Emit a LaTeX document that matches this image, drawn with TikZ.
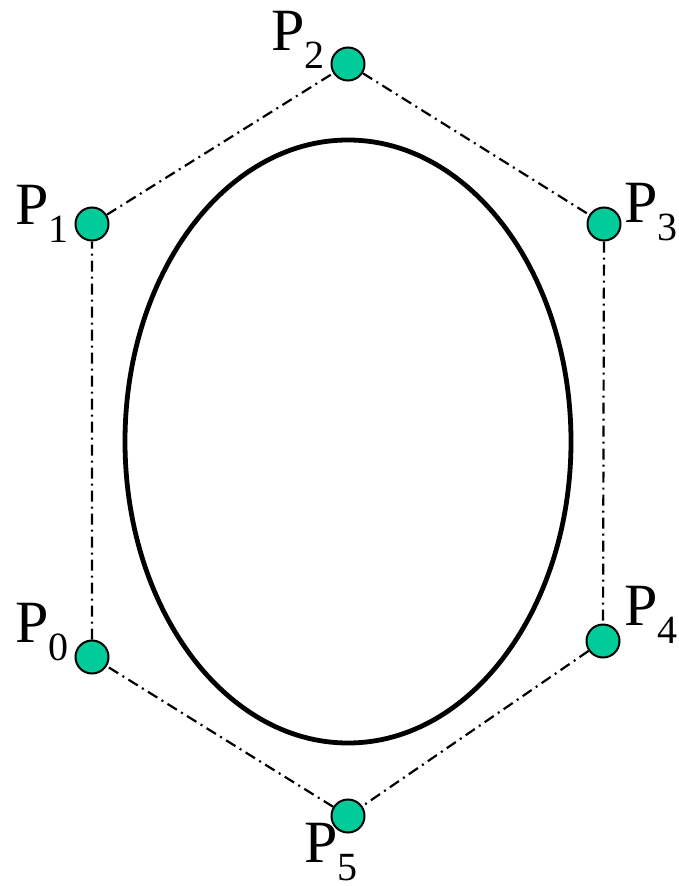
\documentclass[tikz,border=0pt]{standalone}
\usepackage{fontspec}
\setmainfont{Liberation Serif}
\definecolor{ptgreen}{RGB}{0,204,153}
\begin{document}
\begin{tikzpicture}[x=1pt,y=-1pt,
  pt/.style={circle,draw=black,line width=2pt,fill=ptgreen,minimum size=33pt,inner sep=0pt},
  poly/.style={line width=2.2pt,dash pattern=on 11pt off 5pt on 2pt off 5pt},
  lbl/.style={anchor=base west,inner sep=0pt,font=\fontsize{60}{60}\selectfont}]
\useasboundingbox (0,0) rectangle (679,886);
\newcommand{\plab}[1]{P\raisebox{-18pt}{\fontsize{40}{40}\selectfont #1}}
\draw[line width=4.8pt] (348,441.5) ellipse (223 and 301.5);
\node[pt] (p0) at (92,657) {};
\node[pt] (p1) at (92,224) {};
\node[pt] (p2) at (348,64) {};
\node[pt] (p3) at (604,224) {};
\node[pt] (p4) at (603,641) {};
\node[pt] (p5) at (348,816) {};
\draw[poly] (p0) -- (p1) -- (p2) -- (p3) -- (p4) -- (p5) -- (p0);
\node[lbl] (l0) at (15,642) {\plab{0}};
\node[lbl] (l1) at (15,224) {\plab{1}};
\node[lbl] (l2) at (271,50) {\plab{2}};
\node[lbl] (l3) at (624,222) {\plab{3}};
\node[lbl] (l4) at (624,625) {\plab{4}};
\node[lbl] (l5) at (304,862) {\plab{5}};
\end{tikzpicture}
\end{document}
